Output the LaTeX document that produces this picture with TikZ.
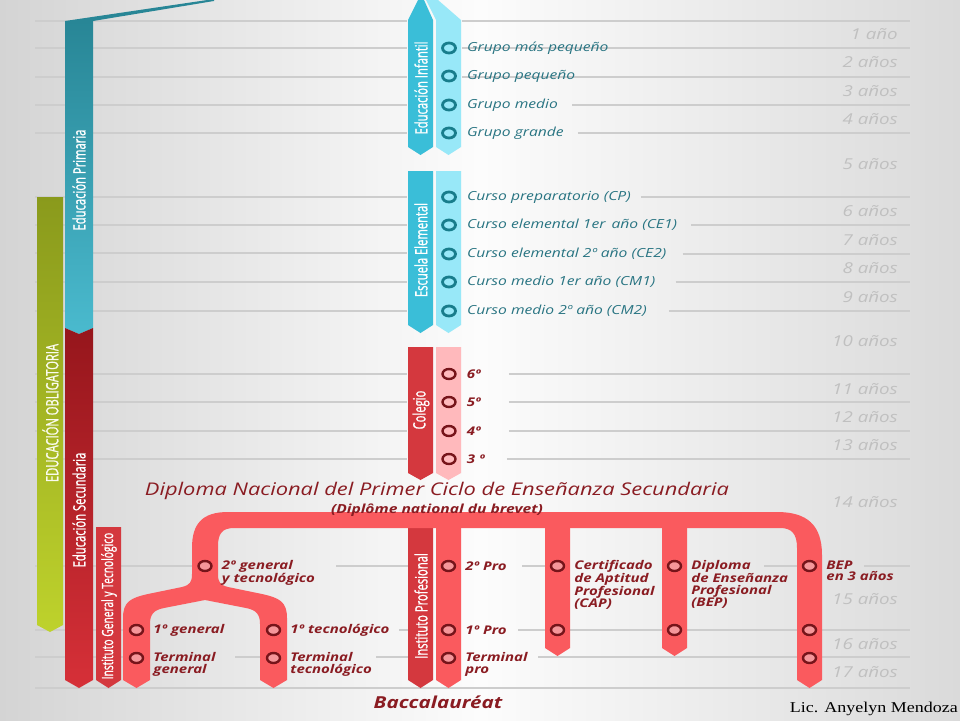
\documentclass[tikz,border=0pt]{standalone}
\usepackage{fontspec}
\setmainfont{Open Sans}
\newfontfamily\widefont[FakeStretch=1.25]{Open Sans}
\newfontfamily\narrowfont[FakeStretch=0.66, FakeBold=1]{Open Sans}
\newfontfamily\sigfont[FakeStretch=1.2]{Liberation Serif}
\usepackage{tikz}
\usetikzlibrary{positioning,shapes.geometric}

\definecolor{bgL}{RGB}{212,212,212}
\definecolor{bgM}{RGB}{252,252,252}
\definecolor{bgR}{RGB}{218,218,218}
\definecolor{gridgray}{RGB}{205,205,205}
\definecolor{primTop}{RGB}{40,134,150}
\definecolor{primBot}{RGB}{74,186,206}
\definecolor{secTop}{RGB}{150,22,28}
\definecolor{secBot}{RGB}{214,48,56}
\definecolor{oblTop}{RGB}{138,154,28}
\definecolor{oblBot}{RGB}{190,210,44}
\definecolor{cyanDark}{RGB}{58,190,216}
\definecolor{cyanLight}{RGB}{152,232,248}
\definecolor{tealDot}{RGB}{24,125,140}
\definecolor{tealText}{RGB}{40,116,130}
\definecolor{redBar}{RGB}{212,56,62}
\definecolor{pinkBar}{RGB}{255,185,188}
\definecolor{pipeRed}{RGB}{250,90,94}
\definecolor{dotRed}{RGB}{118,20,26}
\definecolor{dotPink}{RGB}{245,150,154}
\definecolor{darkRed}{RGB}{138,28,34}
\definecolor{yearGray}{RGB}{192,192,192}

\begin{document}
\begin{tikzpicture}[x=1pt, y=-1pt, inner sep=0pt,
    grid/.style={draw=gridgray, line width=1.1pt},
    bartext/.style={rotate=90, text=white, font=\narrowfont\fontsize{17}{17}\selectfont},
    tealdot/.style={ellipse, draw=tealDot, fill=cyanLight, line width=2.8pt, minimum width=13pt, minimum height=10pt},
    reddot/.style={ellipse, draw=dotRed, fill=dotPink, line width=2.4pt, minimum width=13pt, minimum height=10pt},
    coldot/.style={reddot, fill=pinkBar},
    teallbl/.style={text=tealText, font=\widefont\itshape\fontsize{12.5}{12.5}\selectfont},
    redlbl/.style={text=darkRed, font=\widefont\bfseries\itshape\fontsize{12}{11.6}\selectfont, align=left},
    yearlbl/.style={text=yearGray, anchor=east, font=\widefont\itshape\fontsize{15}{15}\selectfont}]

    \useasboundingbox (0,0) rectangle (960,720);
    \shade [left color=bgL, right color=bgR, middle color=bgM] (0,0) rectangle (960,720);

    % Grid
    \foreach \yy in {21,48,77,105,133,197,225,253,282,311,374,402,431,459}
        \draw [grid] (35,\yy) -- (407,\yy);
    \draw [grid] (462,21) -- (910,21);
    \draw [grid] (462,48) -- (910,48);
    \draw [grid] (462,77) -- (910,77);
    \foreach \ya/\xa/\xb in {566/35/192, 566/336/408, 566/522/545, 566/764/797, 566/864/910,
                             630/35/123, 630/399/408, 630/518/910,
                             657/35/123, 657/235/260, 657/376/408, 657/538/910,
                             688/35/910}
        \draw [grid] (\xa,\ya) -- (\xb,\ya);

    % Left bars
    \fill [primTop] (65,21) -- (214,-1) -- (214,1) -- (93,21) -- cycle;
    \shade [top color=primTop, bottom color=primBot] (65,21) -- (93,21) -- (93,328) -- (79,334) -- (65,328) -- cycle;
    \shade [top color=secTop, bottom color=secBot] (65,328) -- (79,334) -- (93,328) -- (93,680) -- (79,688) -- (65,680) -- cycle;
    \shade [top color=oblTop, bottom color=oblBot] (37,197) -- (63,197) -- (63,625) -- (50,632) -- (37,625) -- cycle;
    \fill [redBar] (96,527) -- (121,527) -- (121,680) -- (108.5,688) -- (96,680) -- cycle;

    % Middle bars
    \fill [cyanLight] (436,20) -- (426,0) -- (438,0) -- (461,20) -- (461,147) -- (448.5,155) -- (436,147) -- cycle;
    \fill [cyanDark]  (408,20) -- (418,0) -- (424,0) -- (433,20) -- (433,147) -- (420.5,155) -- (408,147) -- cycle;
    \fill [cyanDark]  (408,171) -- (433,171) -- (433,325) -- (420.5,333) -- (408,325) -- cycle;
    \fill [cyanLight] (436,171) -- (461,171) -- (461,325) -- (448.5,333) -- (436,325) -- cycle;
    \fill [redBar]    (408,347) -- (433,347) -- (433,473) -- (420.5,480) -- (408,473) -- cycle;
    \fill [pinkBar]   (436,347) -- (461,347) -- (461,473) -- (448.5,480) -- (436,473) -- cycle;
    \fill [redBar]    (408,527) -- (433,527) -- (433,680) -- (420.5,688) -- (408,680) -- cycle;

    % Pipes
    \fill [pipeRed] (123,680) -- (123,618) .. controls (123,602) and (130,598) .. (148,594)
        -- (182,587) .. controls (190,585) and (192,582) .. (192,574)
        -- (192,548) .. controls (192,524) and (202,512) .. (228,512)
        -- (777,512) .. controls (807,512) and (822,525) .. (822,555)
        -- (822,680) -- (809.5,688) -- (797,680)
        -- (797,548) .. controls (797,534) and (792,528) .. (780,528)
        -- (234,528) .. controls (222,528) and (218,534) .. (218,546)
        -- (218,574) .. controls (218,582) and (220,585) .. (228,587)
        -- (262,594) .. controls (280,598) and (287,602) .. (287,618)
        -- (287,680) -- (273.5,688) -- (260,680)
        -- (260,624) .. controls (260,614) and (256,610) .. (246,608)
        -- (205,600) -- (164,608) .. controls (154,610) and (150,614) .. (150,624)
        -- (150,680) -- (136.5,688) -- cycle;
    \fill [pipeRed] (436,520) -- (461,520) -- (461,680) -- (448.5,688) -- (436,680) -- cycle;
    \fill [pipeRed] (545,520) -- (570,520) -- (570,648) -- (557.5,656) -- (545,648) -- cycle;
    \fill [pipeRed] (662,520) -- (687,520) -- (687,648) -- (674.5,656) -- (662,648) -- cycle;

    % Bar titles
    \node [bartext] (tprim) at (79,180)    {Educación Primaria};
    \node [bartext] (tsec)  at (79,510)    {Educación Secundaria};
    \node [bartext, text=white!92!oblBot] (tobl)  at (50.5,413)  {EDUCACIÓN OBLIGATORIA};
    \node [bartext, font=\narrowfont\fontsize{15.5}{15.5}\selectfont] (tgen) at (109,606) {Instituto General y Tecnológico};
    \node [bartext] (tinf)  at (421,88)    {Educación Infantil};
    \node [bartext] (tele)  at (421,250)   {Escuela Elemental};
    \node [bartext] (tcol)  at (421,410)   {Colegio};
    \node [bartext] (tpro)  at (421,606)   {Instituto Profesional};

    % Dots {g, e, k}
    \node [tealdot] (g1) at (449,48)  {};
    \node [tealdot] (g2) at (449,76)  {};
    \node [tealdot] (g3) at (449,105) {};
    \node [tealdot] (g4) at (449,133) {};
    \node [tealdot] (e1) at (449,197) {};
    \node [tealdot] (e2) at (449,225) {};
    \node [tealdot] (e3) at (449,254) {};
    \node [tealdot] (e4) at (449,282) {};
    \node [tealdot] (e5) at (449,311) {};
    \node [coldot]  (k6) at (449,374) {};
    \node [coldot]  (k5) at (449,402) {};
    \node [coldot]  (k4) at (449,431) {};
    \node [coldot]  (k3) at (449,459) {};

    % Labels
    \node [teallbl, right=10pt of g1] (lg1) {Grupo más pequeño};
    \node [teallbl, right=10pt of g2] (lg2) {Grupo pequeño};
    \node [teallbl, right=10pt of g3] (lg3) {Grupo medio};
    \node [teallbl, right=10pt of g4] (lg4) {Grupo grande};
    \node [teallbl, right=10pt of e1] (le1) {Curso preparatorio (CP)};
    \node [teallbl, right=10pt of e2] (le2) {Curso elemental 1er\, año (CE1)};
    \node [teallbl, right=10pt of e3] (le3) {Curso elemental 2º año (CE2)};
    \node [teallbl, right=10pt of e4] (le4) {Curso medio 1er año (CM1)};
    \node [teallbl, right=10pt of e5] (le5) {Curso medio 2º año (CM2)};
    \node [redlbl, right=10pt of k6]  (lk6) {6º};
    \node [redlbl, right=10pt of k5]  (lk5) {5º};
    \node [redlbl, right=10pt of k4]  (lk4) {4º};
    \node [redlbl, right=10pt of k3]  (lk3) {3 º};

    % Grid, right of the labels
    \draw [grid] ([xshift=14pt]lg3.east) -- (910,105);
    \draw [grid] ([xshift=14pt]lg4.east) -- (910,133);
    \draw [grid] ([xshift=10pt]le1.east) -- (910,197);
    \draw [grid] ([xshift=14pt]le2.east) -- (910,225);
    \draw [grid] ([xshift=16pt]le3.east) -- (910,254);
    \draw [grid] ([xshift=20pt]le4.east) -- (910,282);
    \draw [grid] ([xshift=22pt]le5.east) -- (910,311);
    \draw [grid] ([xshift=28pt]lk6.east) -- (910,374);
    \draw [grid] ([xshift=28pt]lk5.east) -- (910,402);
    \draw [grid] ([xshift=28pt]lk4.east) -- (910,431);
    \draw [grid] ([xshift=22pt]lk3.east) -- (910,459);

    % Dots on the pipes
    \node [reddot] (s2g)  at (205,566)   {};
    \node [reddot] (s1g)  at (136.5,630) {};
    \node [reddot] (stg)  at (136.5,658) {};
    \node [reddot] (s1t)  at (273.5,630) {};
    \node [reddot] (stt)  at (273.5,658) {};
    \node [reddot] (p2)   at (448.5,566) {};
    \node [reddot] (p1)   at (448.5,630) {};
    \node [reddot] (pt)   at (448.5,658) {};
    \node [reddot] (cap1) at (557.5,566) {};
    \node [reddot] (cap2) at (557.5,630) {};
    \node [reddot] (dep1) at (674.5,566) {};
    \node [reddot] (dep2) at (674.5,630) {};
    \node [reddot] (bep1) at (809.5,566) {};
    \node [reddot] (bep2) at (809.5,630) {};
    \node [reddot] (bep3) at (809.5,658) {};

    \node [redlbl, right=9pt of s2g, anchor=north west, yshift=5.5pt]  (ls2g) {2º general\\y tecnológico};
    \node [redlbl, right=9pt of s1g]                                    (ls1g) {1º general};
    \node [redlbl, right=9pt of stg, anchor=north west, yshift=5.5pt]  (lstg) {Terminal\\general};
    \node [redlbl, right=9pt of s1t]                                    (ls1t) {1º tecnológico};
    \node [redlbl, right=9pt of stt, anchor=north west, yshift=5.5pt]  (lstt) {Terminal\\tecnológico};
    \node [redlbl, right=9pt of p2]                                     (lp2)  {2º Pro};
    \node [redlbl, right=9pt of p1]                                     (lp1)  {1º Pro};
    \node [redlbl, right=9pt of pt, anchor=north west, yshift=5.5pt]   (lpt)  {Terminal\\pro};
    \node [redlbl, right=9pt of cap1, anchor=north west, yshift=5.5pt] (lcap) {Certificado\\de Aptitud\\Profesional\\(CAP)};
    \node [redlbl, right=9pt of dep1, anchor=north west, yshift=5.5pt] (ldep) {Diploma\\de Enseñanza\\Profesional\\(BEP)};
    \node [redlbl, right=9pt of bep1, anchor=north west, yshift=5.5pt] (lbep) {BEP\\en 3 años};

    % Titles
    \node [text=darkRed, font=\widefont\itshape\fontsize{17.5}{17.5}\selectfont] (dnb) at (437,491) {Diploma Nacional del Primer Ciclo de Enseñanza Secundaria};
    \node [text=darkRed, font=\widefont\bfseries\itshape\fontsize{12.5}{12.5}\selectfont, below=4pt of dnb] (brevet) {(Diplôme national du brevet)};
    \node [text=darkRed, font=\widefont\bfseries\itshape\fontsize{16.5}{16.5}\selectfont] (bac) at (438,702) {Baccalauréat};
    \node [anchor=east, font=\sigfont\fontsize{15}{15}\selectfont] (sig) at (958,709) {Lic. Anyelyn Mendoza};

    % Ages
    \node [yearlbl] (a1)  at (898,34)  {1 año};
    \node [yearlbl] (a2)  at (898,62)  {2 años};
    \node [yearlbl] (a3)  at (898,91)  {3 años};
    \node [yearlbl] (a4)  at (898,119) {4 años};
    \node [yearlbl] (a5)  at (898,164) {5 años};
    \node [yearlbl] (a6)  at (898,211) {6 años};
    \node [yearlbl] (a7)  at (898,240) {7 años};
    \node [yearlbl] (a8)  at (898,268) {8 años};
    \node [yearlbl] (a9)  at (898,297) {9 años};
    \node [yearlbl] (a10) at (898,341) {10 años};
    \node [yearlbl] (a11) at (898,389) {11 años};
    \node [yearlbl] (a12) at (898,417) {12 años};
    \node [yearlbl] (a13) at (898,445) {13 años};
    \node [yearlbl] (a14) at (898,502) {14 años};
    \node [yearlbl] (a15) at (898,599) {15 años};
    \node [yearlbl] (a16) at (898,644) {16 años};
    \node [yearlbl] (a17) at (898,672) {17 años};
\end{tikzpicture}
\end{document}
